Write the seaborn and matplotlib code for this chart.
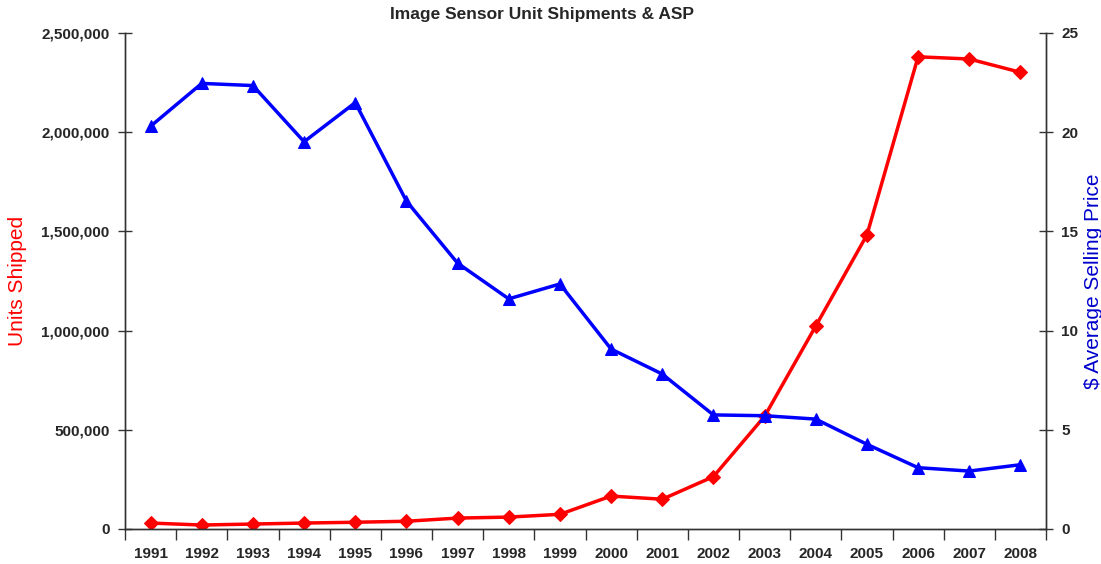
import numpy as np
import pandas as pd
import matplotlib.pyplot as plt
import seaborn as sns
from matplotlib.ticker import FuncFormatter, FixedLocator

years = [str(y) for y in range(1991, 2009)]
units_shipped = [30000, 20000, 25000, 30000, 34000, 39000, 55000, 60000, 74000,
                 166000, 150000, 264000, 568000, 1023000, 1482000, 2380000, 2369000, 2302000]
avg_price = [20.3, 22.46, 22.35, 19.52, 21.49, 16.53, 13.4, 11.6, 12.35,
             9.07, 7.81, 5.75, 5.71, 5.54, 4.27, 3.09, 2.92, 3.24]

df = pd.DataFrame({'pos': np.arange(len(years)), 'year': years,
                   'units': units_shipped, 'asp': avg_price})

sns.set_style('white')
plt.rcParams['font.family'] = ['Liberation Sans', 'DejaVu Sans']
plt.rcParams['font.weight'] = 'bold'

fig = plt.figure(figsize=(11.01, 5.64), dpi=100)
ax = fig.add_axes([125 / 1101, 1 - 529 / 564, (1046 - 125) / 1101, (529 - 33) / 564])
ax2 = ax.twinx()

sns.lineplot(data=df, x='pos', y='units', ax=ax, color='#ff0000', marker='D',
             markersize=7, linewidth=2.5, markeredgecolor='#ff0000')
sns.lineplot(data=df, x='pos', y='asp', ax=ax2, color='#0000ff', marker='^',
             markersize=9, linewidth=2.5, markeredgecolor='#0000ff')

ax.set_xlim(-0.5, len(years) - 0.5)
ax.set_ylim(0, 2500000)
ax2.set_ylim(0, 25)
ax.set_yticks(np.arange(0, 2500001, 500000))
ax2.set_yticks(np.arange(0, 26, 5))
ax.yaxis.set_major_formatter(FuncFormatter(lambda v, p: f'{int(v):,}'))

ax.set_xticks(df['pos'])
ax.set_xticklabels(years)
ax.xaxis.set_minor_locator(FixedLocator(np.arange(-0.5, len(years), 1.0)))
ax.tick_params(axis='x', which='major', length=0, pad=13, labelsize=11)
ax.tick_params(axis='x', which='minor', direction='out', length=8, width=1, color='#333333', bottom=True)
ax.tick_params(axis='y', direction='inout', length=10, width=1, color='#333333', labelsize=11, pad=6)
ax2.tick_params(axis='y', direction='inout', length=10, width=1, color='#333333', labelsize=11, pad=6)

for a in (ax, ax2):
    a.spines['top'].set_visible(False)
    for s in ('left', 'right', 'bottom'):
        a.spines[s].set_color('#333333')
        a.spines[s].set_linewidth(1)

ax.set_xlabel('')
ax.set_ylabel('Units Shipped', color='#ff0000', fontsize=15, fontweight='normal')
ax.yaxis.set_label_coords((27 - 125) / 921, 0.5)
ax2.set_ylabel('$ Average Selling Price', color='#0000cc', fontsize=15, fontweight='normal')
ax2.yaxis.set_label_coords((1084 - 125) / 921, 0.5)
fig.text(542 / 1101, 1 - 14 / 564, 'Image Sensor Unit Shipments & ASP', fontsize=12.5,
         fontweight='bold', ha='center', va='center')

fig.savefig('out.png', dpi=100)
